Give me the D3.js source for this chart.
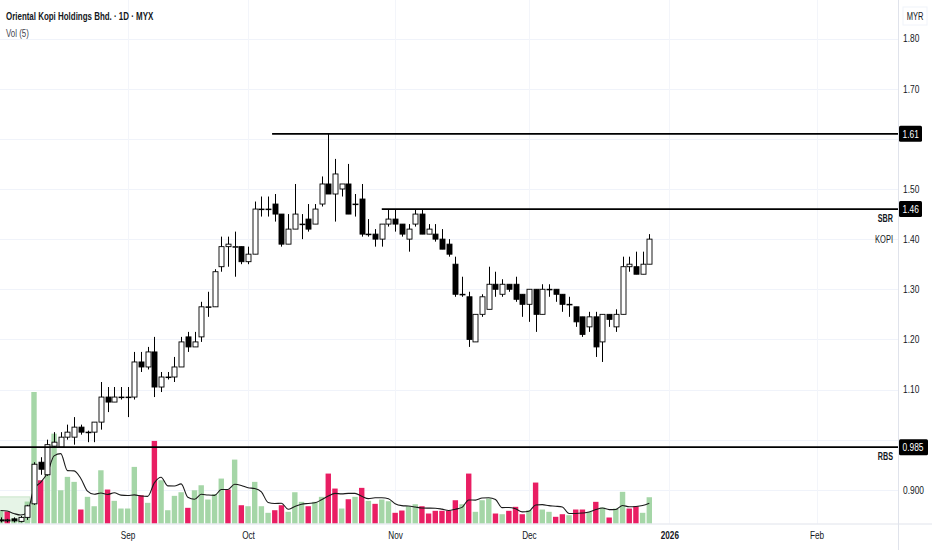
<!DOCTYPE html>
<html>
<head>
<meta charset="utf-8">
<script src="https://cdn.jsdelivr.net/npm/d3@7"></script>
<style>
  body { margin: 0; background: #fff; }
  svg { display: block; font-family: "Liberation Sans", Arial, sans-serif; }
</style>
</head>
<body>
<div id="chart"></div>
<script>
// daily OHLC, one entry per trading day
const opens = [
  0.840, 0.838, 0.842, 0.837, 0.845, 0.872, 0.955, 0.930, 0.987, 0.985,
  1.005, 1.005, 1.025, 1.015, 1.015, 1.035, 1.085, 1.075, 1.085, 1.085,
  1.085, 1.155, 1.145, 1.175, 1.105, 1.125, 1.125, 1.145, 1.205, 1.185,
  1.205, 1.265, 1.265, 1.345, 1.385, 1.385, 1.385, 1.355, 1.370, 1.460,
  1.460, 1.470, 1.450, 1.390, 1.420, 1.430, 1.440, 1.430, 1.470, 1.510,
  1.490, 1.500, 1.510, 1.470, 1.480, 1.410, 1.410, 1.400, 1.430, 1.440,
  1.430, 1.400, 1.430, 1.450, 1.410, 1.410, 1.400, 1.390, 1.350, 1.290,
  1.285, 1.195, 1.250, 1.260, 1.310, 1.290, 1.310, 1.310, 1.290, 1.270,
  1.300, 1.250, 1.300, 1.300, 1.290, 1.270, 1.265, 1.245, 1.225, 1.245,
  1.195, 1.250, 1.225, 1.250, 1.345, 1.345, 1.330, 1.350
];
const highs = [
  0.845, 0.842, 0.845, 0.848, 0.870, 0.955, 0.965, 1.000, 1.015, 1.015,
  1.030, 1.045, 1.030, 1.018, 1.035, 1.115, 1.105, 1.105, 1.105, 1.105,
  1.175, 1.175, 1.185, 1.205, 1.135, 1.135, 1.165, 1.205, 1.215, 1.215,
  1.275, 1.295, 1.340, 1.405, 1.405, 1.415, 1.385, 1.385, 1.475, 1.485,
  1.485, 1.490, 1.450, 1.450, 1.510, 1.450, 1.470, 1.470, 1.525, 1.610,
  1.560, 1.510, 1.550, 1.490, 1.510, 1.440, 1.420, 1.430, 1.460, 1.460,
  1.430, 1.430, 1.460, 1.460, 1.430, 1.430, 1.420, 1.400, 1.365, 1.325,
  1.295, 1.250, 1.290, 1.345, 1.335, 1.320, 1.310, 1.325, 1.290, 1.300,
  1.300, 1.310, 1.310, 1.300, 1.290, 1.285, 1.265, 1.245, 1.255, 1.255,
  1.250, 1.250, 1.260, 1.365, 1.365, 1.375, 1.375, 1.410
];
const lows = [
  0.835, 0.835, 0.835, 0.835, 0.840, 0.870, 0.930, 0.928, 0.985, 0.985,
  1.000, 0.990, 1.010, 0.995, 0.995, 1.020, 1.055, 1.075, 1.080, 1.045,
  1.080, 1.135, 1.140, 1.085, 1.095, 1.120, 1.115, 1.145, 1.175, 1.185,
  1.195, 1.245, 1.265, 1.335, 1.345, 1.325, 1.350, 1.350, 1.370, 1.445,
  1.445, 1.435, 1.385, 1.390, 1.420, 1.400, 1.415, 1.430, 1.465, 1.490,
  1.435, 1.485, 1.450, 1.445, 1.405, 1.405, 1.385, 1.385, 1.425, 1.415,
  1.405, 1.375, 1.425, 1.410, 1.410, 1.395, 1.380, 1.365, 1.285, 1.285,
  1.185, 1.195, 1.245, 1.260, 1.285, 1.285, 1.295, 1.275, 1.245, 1.235,
  1.215, 1.250, 1.285, 1.275, 1.255, 1.245, 1.225, 1.205, 1.215, 1.165,
  1.155, 1.225, 1.215, 1.250, 1.335, 1.330, 1.330, 1.350
];
const closes = [
  0.838, 0.840, 0.838, 0.845, 0.868, 0.951, 0.941, 0.990, 0.995, 1.005,
  1.015, 1.025, 1.015, 1.015, 1.035, 1.085, 1.075, 1.085, 1.085, 1.085,
  1.155, 1.145, 1.175, 1.105, 1.125, 1.125, 1.145, 1.195, 1.185, 1.195,
  1.265, 1.265, 1.335, 1.385, 1.390, 1.385, 1.355, 1.370, 1.460, 1.460,
  1.460, 1.450, 1.390, 1.420, 1.450, 1.430, 1.420, 1.460, 1.510, 1.490,
  1.530, 1.510, 1.450, 1.470, 1.410, 1.410, 1.400, 1.430, 1.440, 1.430,
  1.410, 1.420, 1.450, 1.410, 1.420, 1.400, 1.380, 1.370, 1.290, 1.290,
  1.200, 1.250, 1.285, 1.310, 1.300, 1.310, 1.300, 1.280, 1.270, 1.300,
  1.250, 1.300, 1.300, 1.290, 1.270, 1.270, 1.235, 1.210, 1.245, 1.185,
  1.250, 1.240, 1.250, 1.345, 1.350, 1.330, 1.350, 1.400
];

// volume in thousand shares, and whether each volume bar is coloured up (u) or down (d)
const volumes = [
  130, 120, 50, 40, 220, 1317, 433, 517, 900, 333,
  467, 417, 140, 267, 173, 533, 340, 227, 150, 150,
  567, 283, 207, 827, 433, 133, 277, 313, 157, 333,
  383, 240, 293, 450, 340, 640, 183, 173, 417, 173,
  107, 133, 183, 117, 313, 217, 173, 217, 267, 500,
  350, 150, 243, 267, 357, 227, 197, 240, 223, 107,
  130, 173, 193, 173, 100, 127, 127, 127, 233, 193,
  500, 117, 233, 250, 100, 93, 127, 167, 93, 133,
  410, 140, 117, 67, 93, 83, 140, 140, 117, 217,
  160, 60, 150, 317, 150, 173, 107, 263
];
const volumeSide = (
  "uduuuuduuu" + "uuduuuduuu" + "ududuuuudu" + "uuuududuuu" + "udduuuduud" +
  "dudududuud" + "duuddddddu" + "duuududddu" + "duudduddud" + "uduudduu"
).split("");

// time axis: bar index where each month label sits
const monthLabels = ["Sep", "Oct", "Nov", "Dec", "2026", "Feb"];
const monthIndex = [19, 37, 59, 79, 100, 122];

// price axis
const priceTicks = [0.9, 1.0, 1.1, 1.2, 1.3, 1.4, 1.5, 1.6, 1.7, 1.8];
const priceTickLabels = ["0.900", "1.00", "1.10", "1.20", "1.30", "1.40", "1.50", "1.60", "1.70", "1.80"];

// horizontal levels drawn on the chart
const levelPrices = [1.61, 1.46, 0.985];
const levelLabels = ["1.61", "1.46", "0.985"];
const levelNames = ["", "SBR", "RBS"];
const levelStartIndex = [40.6, 57, -1];

// shaded price zone at the very left
const zonePrices = [0.836, 0.886];
const zoneIndex = [-1, 4.4];

const W = 932, H = 550;
const plotRight = 898;
const paneBottom = 523.5;

// squeeze text horizontally, the reference uses a condensed face
function narrow(sel, k) {
  sel.each(function() {
    const w = this.getComputedTextLength();
    if (w > 0) {
      d3.select(this)
        .attr("textLength", w * k)
        .attr("lengthAdjust", "spacingAndGlyphs");
    }
  });
}

const svg = d3.select("#chart").append("svg")
  .attr("width", W)
  .attr("height", H);

svg.append("rect").attr("width", W).attr("height", H).attr("fill", "#fff");

// scales
const x = d3.scaleLinear().domain([0, 97]).range([0.56, 649.3]);
const y = d3.scaleLinear().domain([0.9, 1.8]).range([489.8, 38.6]);
const yVol = d3.scaleLinear().domain([0, d3.max(volumes)]).range([paneBottom, 392]);

const plot = svg.append("g");

// grid
plot.append("g")
  .selectAll("line")
  .data(priceTicks)
  .join("line")
  .attr("x1", 0).attr("x2", plotRight)
  .attr("y1", d => Math.round(y(d)) + 0.5).attr("y2", d => Math.round(y(d)) + 0.5)
  .attr("stroke", "#f0f3fa");

plot.append("g")
  .selectAll("line")
  .data(monthIndex)
  .join("line")
  .attr("x1", d => Math.round(x(d)) + 0.5).attr("x2", d => Math.round(x(d)) + 0.5)
  .attr("y1", 0).attr("y2", paneBottom)
  .attr("stroke", "#f3f5fa");

// price zone
plot.append("rect")
  .attr("x", x(zoneIndex[0]))
  .attr("width", x(zoneIndex[1]) - x(zoneIndex[0]))
  .attr("y", y(zonePrices[1]))
  .attr("height", y(zonePrices[0]) - y(zonePrices[1]))
  .attr("fill", "rgba(200,230,201,0.45)")
  .attr("stroke", "rgba(165,214,167,0.5)");

// volume bars
const volW = 5.4;
plot.append("g")
  .selectAll("rect")
  .data(volumes)
  .join("rect")
  .attr("x", (d, i) => x(i) - volW / 2)
  .attr("width", volW)
  .attr("y", d => yVol(d))
  .attr("height", d => paneBottom - yVol(d))
  .attr("fill", (d, i) => volumeSide[i] === "u" ? "#a5d6a7" : "#e91e63");

// 5 bar moving average of volume
const volMA = volumes.map((v, i) => d3.mean(volumes.slice(Math.max(0, i - 4), i + 1)));
plot.append("path")
  .datum(volMA)
  .attr("d", d3.line().x((d, i) => x(i)).y(d => yVol(d)).curve(d3.curveMonotoneX))
  .attr("fill", "none")
  .attr("stroke", "#1a1a1a")
  .attr("stroke-width", 1.1);

// candles
const bodyW = 5;
const candles = plot.append("g")
  .selectAll("g")
  .data(d3.range(opens.length))
  .join("g");

candles.append("line")
  .attr("x1", i => Math.round(x(i)) + 0.5).attr("x2", i => Math.round(x(i)) + 0.5)
  .attr("y1", i => y(highs[i])).attr("y2", i => y(lows[i]))
  .attr("stroke", "#000")
  .attr("stroke-width", 1);

candles.append("rect")
  .attr("x", i => Math.round(x(i)) + 0.5 - bodyW / 2)
  .attr("width", bodyW)
  .attr("y", i => y(Math.max(opens[i], closes[i])))
  .attr("height", i => Math.max(0.6, Math.abs(y(opens[i]) - y(closes[i]))))
  .attr("fill", i => closes[i] >= opens[i] ? "#fff" : "#000")
  .attr("stroke", "#000")
  .attr("stroke-width", 0.9);

// level lines
plot.append("g")
  .selectAll("line")
  .data(levelPrices)
  .join("line")
  .attr("x1", (d, i) => Math.max(0, x(levelStartIndex[i])))
  .attr("x2", plotRight)
  .attr("y1", d => y(d)).attr("y2", d => y(d))
  .attr("stroke", "#000")
  .attr("stroke-width", 1.8);

const levelText = plot.append("g")
  .selectAll("text")
  .data(levelPrices)
  .join("text")
  .attr("x", 893)
  .attr("y", d => y(d) + 13)
  .attr("text-anchor", "end")
  .attr("font-size", 10)
  .attr("font-weight", "bold")
  .attr("fill", "#131722")
  .text((d, i) => levelNames[i]);
narrow(levelText, 0.72);

// symbol label at the last close
const symText = plot.append("text")
  .attr("x", 893)
  .attr("y", y(closes[closes.length - 1]) + 4)
  .attr("text-anchor", "end")
  .attr("font-size", 10)
  .attr("fill", "#131722")
  .text("KOPI");
narrow(symText, 0.75);

// pane borders
svg.append("line")
  .attr("x1", 0).attr("x2", W)
  .attr("y1", paneBottom + 0.5).attr("y2", paneBottom + 0.5)
  .attr("stroke", "#e0e3eb");
svg.append("line")
  .attr("x1", plotRight + 0.5).attr("x2", plotRight + 0.5)
  .attr("y1", 0).attr("y2", H)
  .attr("stroke", "#e0e3eb");

// price axis, labels hidden where a level box sits on top of them
const hiddenByBox = d => levelPrices.some(p => Math.abs(y(p) - y(d)) < 11);
const yAxis = d3.axisRight(y)
  .tickValues(priceTicks)
  .tickFormat((d, i) => hiddenByBox(d) ? "" : priceTickLabels[i])
  .tickSize(0)
  .tickPadding(5);

const yAxisG = svg.append("g")
  .attr("transform", `translate(${plotRight},0)`)
  .call(yAxis);
yAxisG.select(".domain").remove();
yAxisG.selectAll("text")
  .attr("font-family", "inherit")
  .attr("font-size", 10.5)
  .attr("fill", "#131722");
narrow(yAxisG.selectAll("text"), 0.8);

// level price boxes on the axis
const boxes = svg.append("g")
  .selectAll("g")
  .data(levelPrices)
  .join("g")
  .attr("transform", d => `translate(${plotRight + 1},${y(d)})`);

boxes.append("rect")
  .attr("x", 0)
  .attr("y", -8)
  .attr("width", (d, i) => levelLabels[i].length > 4 ? 29 : 23)
  .attr("height", 16)
  .attr("rx", 1.5)
  .attr("fill", "#000");

const boxText = boxes.append("text")
  .attr("x", 3.5)
  .attr("y", 4)
  .attr("font-size", 10.5)
  .attr("fill", "#fff")
  .text((d, i) => levelLabels[i]);
narrow(boxText, 0.8);

// currency
svg.append("rect")
  .attr("x", 903).attr("y", 7)
  .attr("width", 24).attr("height", 18)
  .attr("fill", "#fff")
  .attr("stroke", "#f0f3fa");
const curText = svg.append("text")
  .attr("x", 915).attr("y", 20)
  .attr("text-anchor", "middle")
  .attr("font-size", 10)
  .attr("fill", "#131722")
  .text("MYR");
narrow(curText, 0.75);

// time axis
const xAxis = d3.axisBottom(x)
  .tickValues(monthIndex)
  .tickFormat((d, i) => monthLabels[i])
  .tickSize(0)
  .tickPadding(8);

const xAxisG = svg.append("g")
  .attr("transform", `translate(0,${paneBottom})`)
  .call(xAxis);
xAxisG.select(".domain").remove();
xAxisG.selectAll("text")
  .attr("font-family", "inherit")
  .attr("font-size", 10.5)
  .attr("fill", "#131722")
  .attr("font-weight", (d, i) => /^\d+$/.test(monthLabels[i]) ? "bold" : "normal");
narrow(xAxisG.selectAll("text"), 0.78);

// header
const title = svg.append("text")
  .attr("x", 6).attr("y", 20)
  .attr("font-size", 11.5)
  .attr("font-weight", "bold")
  .attr("fill", "#131722")
  .text("Oriental Kopi Holdings Bhd. · 1D · MYX");
narrow(title, 0.69);

const volTitle = svg.append("text")
  .attr("x", 6).attr("y", 37)
  .attr("font-size", 11)
  .attr("fill", "#434651")
  .text("Vol (5)");
narrow(volTitle, 0.72);
</script>
</body>
</html>
